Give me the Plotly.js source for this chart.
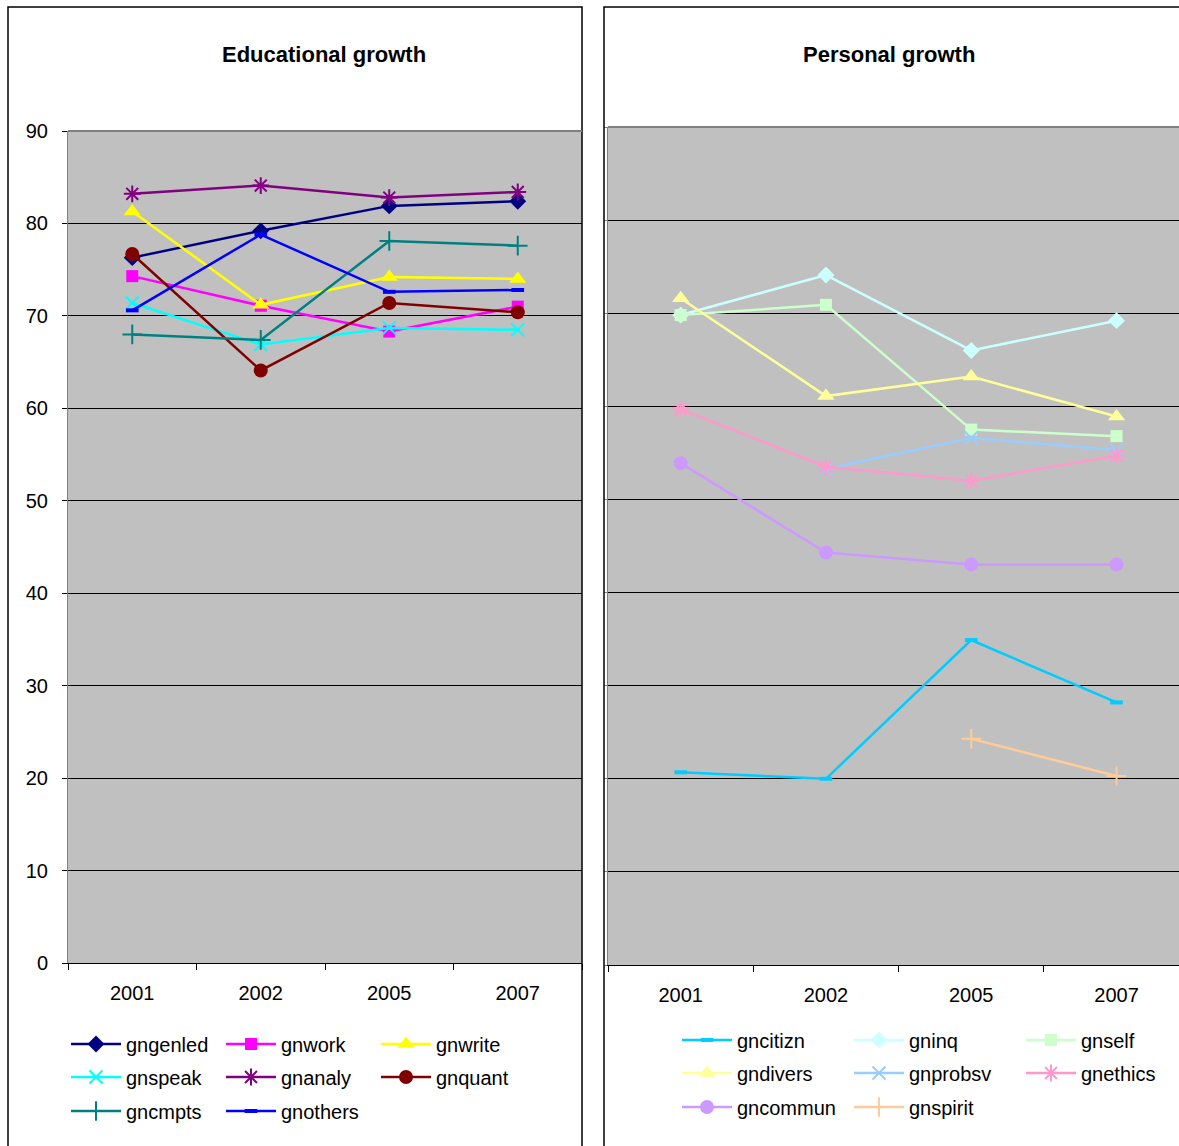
<!DOCTYPE html>
<html>
<head>
<meta charset="utf-8">
<script src="https://cdn.plot.ly/plotly-3.0.1.min.js"></script>
<style>html,body{margin:0;padding:0;background:#fff;overflow:hidden;}#chart{width:1179px;height:1146px;}</style>
</head>
<body>
<div id="chart"></div>
<script>
const years = ['2001', '2002', '2005', '2007'];

// Educational growth
const gngenled = [76.3, 79.2, 81.9, 82.4];
const gnwork   = [74.3, 71.1, 68.3, 71.0];
const gnwrite  = [81.3, 71.2, 74.2, 74.0];
const gnspeak  = [71.4, 66.9, 68.7, 68.5];
const gnanaly  = [83.2, 84.1, 82.8, 83.4];
const gnquant  = [76.7, 64.1, 71.4, 70.4];
const gncmpts  = [68.0, 67.4, 78.1, 77.6];
const gnothers = [70.6, 78.8, 72.6, 72.8];

// Personal growth
const gncitizn = [20.7, 20.0, 34.9, 28.2];
const gninq    = [69.8, 74.1, 66.0, 69.2];
const gnself   = [69.8, 70.9, 57.5, 56.8];
const gndivers = [71.6, 61.1, 63.2, 58.9];
const gnprobsv = [null, 53.3, 56.6, 55.3];
const gnethics = [59.7, 53.5, 52.0, 54.7];
const gncommun = [53.9, 44.3, 43.0, 43.0];
const gnspirit = [null, null, 24.3, 20.3];

const eduNames = ['gngenled','gnwork','gnwrite','gnspeak','gnanaly','gnquant','gncmpts','gnothers'];
const eduVals  = [gngenled, gnwork, gnwrite, gnspeak, gnanaly, gnquant, gncmpts, gnothers];
const perNames = ['gncitizn','gninq','gnself','gndivers','gnprobsv','gnethics','gncommun','gnspirit'];
const perVals  = [gncitizn, gninq, gnself, gndivers, gnprobsv, gnethics, gncommun, gnspirit];

const eduStyle = [
  {c:'#000080', s:'diamond', z:13, open:false},
  {c:'#FF00FF', s:'square', z:12, open:false},
  {c:'#FFFF00', s:'triangle-up', z:15, open:false},
  {c:'#00FFFF', s:'x-thin-open', z:13, open:true},
  {c:'#800080', s:'asterisk-open', z:14, open:true},
  {c:'#800000', s:'circle', z:14, open:false},
  {c:'#008080', s:'cross-thin-open', z:14, open:true},
  {c:'#0000FF', s:'line-ew-open', z:9, open:true, lw:4}
];
const perStyle = [
  {c:'#00CCFF', s:'line-ew-open', z:9, open:true, lw:4},
  {c:'#CCFFFF', s:'diamond', z:13, open:false},
  {c:'#CCFFCC', s:'square', z:12, open:false},
  {c:'#FFFF99', s:'triangle-up', z:15, open:false},
  {c:'#99CCFF', s:'x-thin-open', z:13, open:true},
  {c:'#FF99CC', s:'asterisk-open', z:14, open:true},
  {c:'#CC99FF', s:'circle', z:14, open:false},
  {c:'#FFCC99', s:'cross-thin-open', z:14, open:true}
];
const legendIds = ['legend','legend','legend','legend2','legend2','legend2','legend3','legend3'];
const legendIdsR = ['legend4','legend4','legend4','legend5','legend5','legend5','legend6','legend6'];

function mk(name, vals, st, xa, ya, leg) {
  return {
    type:'scatter', mode:'lines+markers', name:name, x:years, y:vals,
    xaxis:xa, yaxis:ya, legend:leg, connectgaps:false,
    line:{color:st.c, width:2.5},
    marker:{symbol:st.s, size:st.z, color:st.c,
      line:{color:st.c, width: st.open ? (st.lw || 2) : 0}},
    cliponaxis:false
  };
}
const traces = [];
eduNames.forEach((n,i)=>traces.push(mk(n, eduVals[i], eduStyle[i], 'x', 'y', legendIds[i])));
perNames.forEach((n,i)=>traces.push(mk(n, perVals[i], perStyle[i], 'x2', 'y2', legendIdsR[i])));

const W = 1179, H = 1146;
const px = v => v / W;
const py = v => 1 - v / H;
const F = 'Liberation Sans, Arial, sans-serif';

const axisY = {
  range:[0,90], dtick:10, showgrid:true, gridcolor:'#000000', gridwidth:1,
  showline:true, linecolor:'#808080', linewidth:1, ticks:'outside', ticklen:5, tickcolor:'#000',
  zeroline:false, tickfont:{family:F, size:20, color:'#000'}, fixedrange:true
};
const axisX = {
  type:'category', showgrid:false, showline:true, linecolor:'#000', linewidth:1,
  ticks:'outside', ticklen:6, tickcolor:'#000', tickson:'boundaries',
  tickfont:{family:F, size:20, color:'#000'}, ticklabelstandoff:12, fixedrange:true
};

function legendRow(xpx, ypx, ew) {
  return {orientation:'h', x:px(xpx), xanchor:'left', y:py(ypx), yanchor:'middle',
    entrywidth:ew, entrywidthmode:'pixels', bgcolor:'rgba(0,0,0,0)', borderwidth:0,
    font:{family:F, size:20, color:'#000'}, itemwidth:50, tracegroupgap:0};
}

const layout = {
  width:W, height:H, margin:{l:0, r:0, t:0, b:0, autoexpand:false},
  paper_bgcolor:'#ffffff', plot_bgcolor:'#C0C0C0', showlegend:true,
  xaxis: Object.assign({}, axisX, {domain:[px(68), px(582)], range:[-0.5, 3.5], anchor:'y'}),
  yaxis: Object.assign({}, axisY, {domain:[py(963), py(131)], anchor:'x', ticklabelstandoff:10}),
  xaxis2: Object.assign({}, axisX, {domain:[px(608), 1], range:[-0.5, 3.43], anchor:'y2'}),
  yaxis2: Object.assign({}, axisY, {domain:[py(965), py(127)], anchor:'x2', showticklabels:false, ticklen:3, tickcolor:'#808080'}),
  legend: legendRow(66, 1044, 90),
  legend2: legendRow(66, 1077, 90),
  legend3: legendRow(66, 1111, 90),
  legend4: legendRow(677, 1040, 107),
  legend5: legendRow(677, 1073, 107),
  legend6: legendRow(677, 1107, 107),
  annotations:[
    {text:'<b>Educational growth</b>', xref:'paper', yref:'paper', x:px(324), y:py(55), xanchor:'center', yanchor:'middle', showarrow:false, font:{family:F, size:22, color:'#000'}},
    {text:'<b>Personal growth</b>', xref:'paper', yref:'paper', x:px(889), y:py(55), xanchor:'center', yanchor:'middle', showarrow:false, font:{family:F, size:22, color:'#000'}}
  ],
  shapes:[
    {type:'rect', xref:'paper', yref:'paper', x0:px(8), x1:px(582), y0:py(1160), y1:py(7), line:{color:'#000', width:1.5}, layer:'above'},
    {type:'rect', xref:'paper', yref:'paper', x0:px(604), x1:px(1200), y0:py(1160), y1:py(7), line:{color:'#000', width:1.5}, layer:'above'},
    {type:'line', xref:'x domain', yref:'y domain', x0:0, x1:1, y0:1, y1:1, line:{color:'#808080', width:2}},
    {type:'line', xref:'x2 domain', yref:'y2 domain', x0:0, x1:1, y0:1, y1:1, line:{color:'#808080', width:2}}
  ]
};

Plotly.newPlot('chart', traces, layout, {displayModeBar:false, staticPlot:true});
</script>
</body>
</html>
